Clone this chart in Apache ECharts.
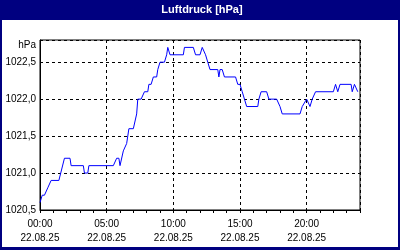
<!DOCTYPE html>
<html>
<head>
<meta charset="utf-8">
<script src="https://cdn.jsdelivr.net/npm/echarts@6/dist/echarts.min.js"></script>
<style>
html,body{margin:0;padding:0;background:#fff;}
#c{width:400px;height:250px;}
</style>
</head>
<body>
<div id="c"></div>
<script>
var titleText = 'Luftdruck [hPa]';
var unitText = 'hPa';
var dateText = '22.08.25';
var times = ["00:00","00:10","00:20","00:35","00:50","01:25","01:50","02:15","02:20","03:15","03:20","03:35","03:40","05:30","05:45","05:55","06:00","06:15","06:30","06:40","07:00","07:15","07:20","07:35","07:50","08:05","08:10","08:20","08:30","08:45","08:50","09:00","09:20","09:30","09:35","09:45","10:45","10:50","11:30","11:40","12:00","12:10","12:15","12:25","12:35","12:45","13:20","13:25","13:30","13:40","13:50","14:40","14:50","15:00","15:10","15:20","15:30","16:20","16:25","16:35","17:00","17:10","17:45","18:00","18:10","19:30","19:40","20:00","20:15","20:25","20:40","22:00","22:10","22:20","22:30","23:20","23:25","23:35","23:50"];
var pressure = [1020.6,1020.7,1020.7,1020.8,1020.9,1020.9,1021.2,1021.2,1021.1,1021.1,1021.0,1021.0,1021.1,1021.1,1021.2,1021.2,1021.1,1021.3,1021.4,1021.6,1021.6,1021.8,1022.0,1022.0,1022.1,1022.1,1022.2,1022.2,1022.3,1022.3,1022.4,1022.5,1022.5,1022.6,1022.7,1022.6,1022.6,1022.7,1022.7,1022.6,1022.6,1022.7,1022.7,1022.6,1022.5,1022.4,1022.4,1022.3,1022.4,1022.4,1022.3,1022.3,1022.2,1022.2,1022.1,1022.0,1021.9,1021.9,1022.0,1022.1,1022.1,1022.0,1022.0,1021.9,1021.8,1021.8,1021.9,1022.0,1021.9,1022.0,1022.1,1022.1,1022.2,1022.1,1022.2,1022.2,1022.1,1022.2,1022.1];
var xTickHours = [0,5,10,15,20];
var yMin = 1020.5, yMax = 1022.8, yStep = 0.5;

function toHours(t){var p=t.split(':');return (+p[0])+(+p[1])/60;}
var seriesData = times.map(function(t,i){return [toHours(t), pressure[i]];});
function pad(n){return (n<10?'0':'')+n;}

var chart = echarts.init(document.getElementById('c'), null, {renderer:'canvas'});
var font = 'Liberation Sans';
chart.setOption({
  animation:false,
  backgroundColor:'#ffffff',
  grid:{left:40,right:40,top:40,bottom:40,show:true,borderColor:'#000',borderWidth:1,backgroundColor:'transparent'},
  xAxis:[{
    type:'value',min:0,max:24,interval:5,position:'bottom',
    axisLine:{show:true,lineStyle:{color:'#000',width:1}},
    axisTick:{show:false},
    axisLabel:{color:'#000',fontFamily:font,fontSize:10,lineHeight:14,margin:7,
      formatter:function(v){ if(xTickHours.indexOf(v)<0) return ''; return pad(v)+':00\n'+dateText; }},
    splitLine:{show:true,lineStyle:{color:'#000',type:[3,3],width:1}}
  },{
    type:'value',min:0,max:24,interval:1,position:'bottom',
    axisLine:{show:false},
    axisTick:{show:true,length:3,lineStyle:{color:'#000'}},
    axisLabel:{show:false},
    splitLine:{show:false}
  }],
  yAxis:{
    type:'value',min:yMin,max:yMax,interval:yStep,
    axisLine:{show:true,lineStyle:{color:'#000',width:1}},
    axisTick:{show:false},
    axisLabel:{color:'#000',fontFamily:font,fontSize:10,margin:4,
      formatter:function(v){ var r=v/yStep; if(Math.abs(r-Math.round(r))>1e-6) return ''; return v.toFixed(1).replace('.',','); }},
    splitLine:{show:true,lineStyle:{color:'#000',type:[3,3],width:1}}
  },
  graphic:[
    {type:'rect',left:0,top:0,shape:{width:400,height:20},style:{fill:'#000080'},silent:true},
    {type:'rect',left:0,top:0,shape:{width:2,height:250},style:{fill:'#000080'},silent:true},
    {type:'rect',right:0,top:0,shape:{width:2,height:250},style:{fill:'#000080'},silent:true},
    {type:'rect',left:0,bottom:0,shape:{width:400,height:3},style:{fill:'#000080'},silent:true},
    {type:'text',x:202,y:10,style:{text:titleText,fill:'#ffffff',font:'bold 11px "Liberation Sans"',align:'center',verticalAlign:'middle'}},
    {type:'text',x:36,y:45,style:{text:unitText,fill:'#000',font:'10px "Liberation Sans"',align:'right',verticalAlign:'middle'}}
  ],
  series:[{
    type:'line',xAxisIndex:0,data:seriesData,showSymbol:false,symbol:'none',
    lineStyle:{color:'#0000ff',width:1},
    itemStyle:{color:'#0000ff'}
  }]
});
</script>
</body>
</html>
